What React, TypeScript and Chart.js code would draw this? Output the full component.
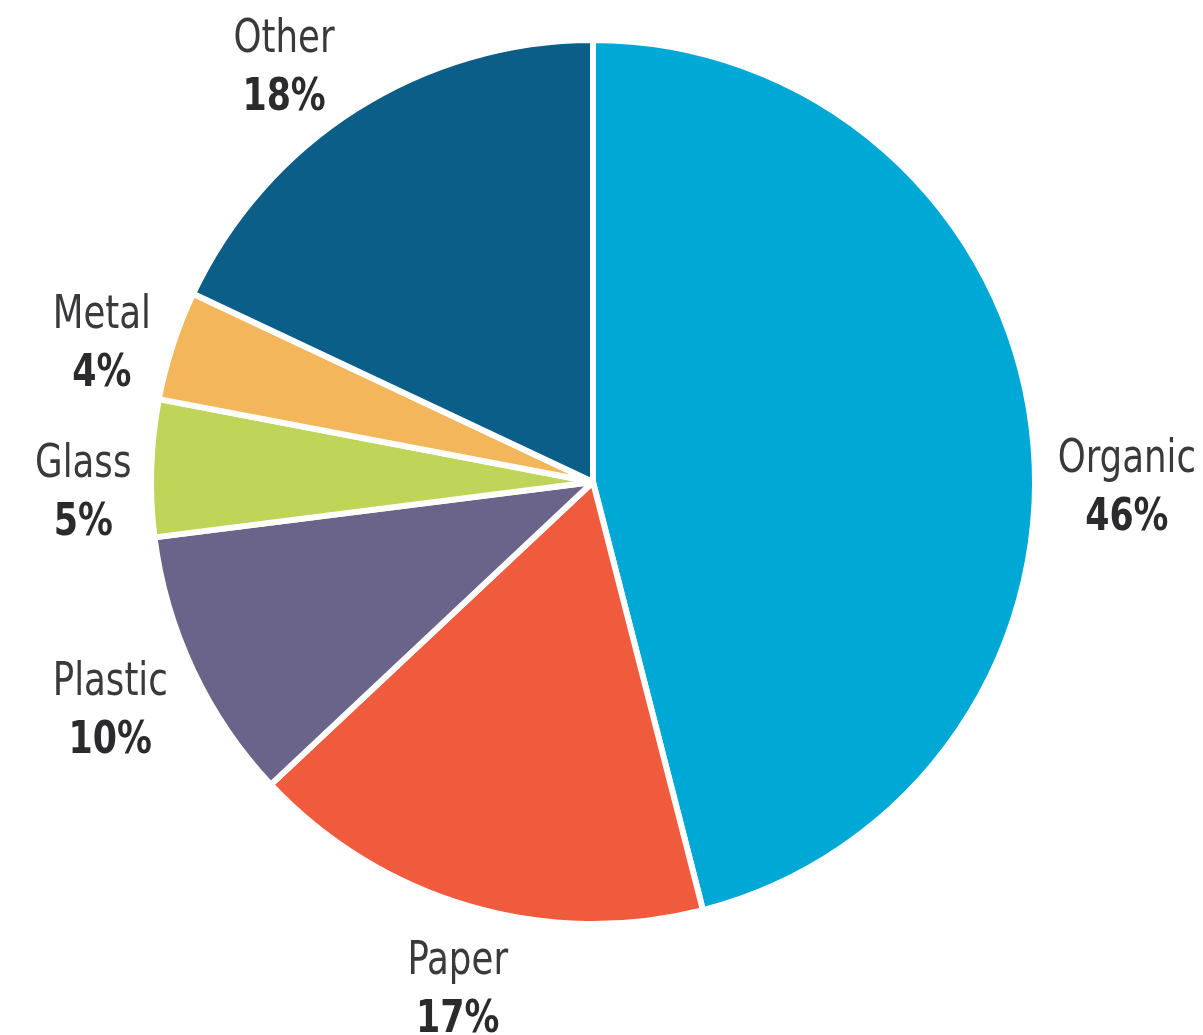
import React, { useEffect, useRef } from "react";
import { Chart, registerables } from "chart.js";

Chart.register(...registerables);

const categories = ["Organic", "Paper", "Plastic", "Glass", "Metal", "Other"];
const shares = [46, 17, 10, 5, 4, 18];
const sliceColors = ["#00A9D5", "#F05B3D", "#6A638A", "#BFD55A", "#F4B65B", "#0B5E87"];

const FONT = '"DejaVu Sans Condensed", "Liberation Sans Narrow", sans-serif';

// manual label nudges (layout only), keyed by category
const labelNudge: Record<string, [number, number]> = {
  Organic: [10, 68],
  Paper: [12, -3],
  Plastic: [-5, 0],
  Glass: [18, 24],
  Metal: [11, 21],
  Other: [-26, 28],
};

function drawScaled(ctx: CanvasRenderingContext2D, text: string, x: number, y: number, sx: number) {
  ctx.save();
  ctx.translate(x, y);
  ctx.scale(sx, 1);
  ctx.fillText(text, 0, 0);
  ctx.restore();
}

const labelPlugin = {
  id: "outerLabels",
  afterDraw(chart: any) {
    const ctx = chart.ctx as CanvasRenderingContext2D;
    const meta = chart.getDatasetMeta(0);
    const labels = chart.data.labels as string[];
    const values = chart.data.datasets[0].data as number[];
    ctx.save();
    ctx.textAlign = "center";
    ctx.textBaseline = "alphabetic";
    meta.data.forEach((arc: any, i: number) => {
      const { x, y, startAngle, endAngle, outerRadius } = arc.getProps(
        ["x", "y", "startAngle", "endAngle", "outerRadius"],
        true
      );
      const mid = (startAngle + endAngle) / 2;
      const d = outerRadius + 86;
      const nudge = labelNudge[labels[i]] || [0, 0];
      const cx = x + Math.cos(mid) * d + nudge[0];
      const cy = y + Math.sin(mid) * d + nudge[1];
      ctx.fillStyle = "#3a3a3c";
      ctx.font = `normal 46px ${FONT}`;
      drawScaled(ctx, labels[i], cx, cy - 12, 0.86);
      ctx.fillStyle = "#2b2b2d";
      ctx.font = `bold 45px ${FONT}`;
      drawScaled(ctx, `${values[i]}%`, cx, cy + 46, 0.86);
    });
    ctx.restore();
  },
};

export default function App() {
  const ref = useRef<HTMLCanvasElement>(null);
  useEffect(() => {
    if (!ref.current) return;
    const chart = new Chart(ref.current, {
      type: "pie",
      data: {
        labels: categories,
        datasets: [
          {
            data: shares,
            backgroundColor: sliceColors,
            borderColor: "#ffffff",
            borderWidth: 6,
            borderJoinStyle: "round",
          },
        ],
      },
      options: {
        responsive: false,
        animation: false,
        devicePixelRatio: 1,
        layout: { padding: { left: 148, right: 165, top: 37, bottom: 108 } },
        plugins: {
          legend: { display: false },
          tooltip: { enabled: false },
        },
      },
      plugins: [labelPlugin],
    });
    return () => chart.destroy();
  }, []);
  return (
    <div style={{ position: "absolute", left: 0, top: 0, width: 1203, height: 1035, background: "#fff" }}>
      <canvas ref={ref} width={1203} height={1035} style={{ width: 1203, height: 1035, display: "block" }} />
    </div>
  );
}
